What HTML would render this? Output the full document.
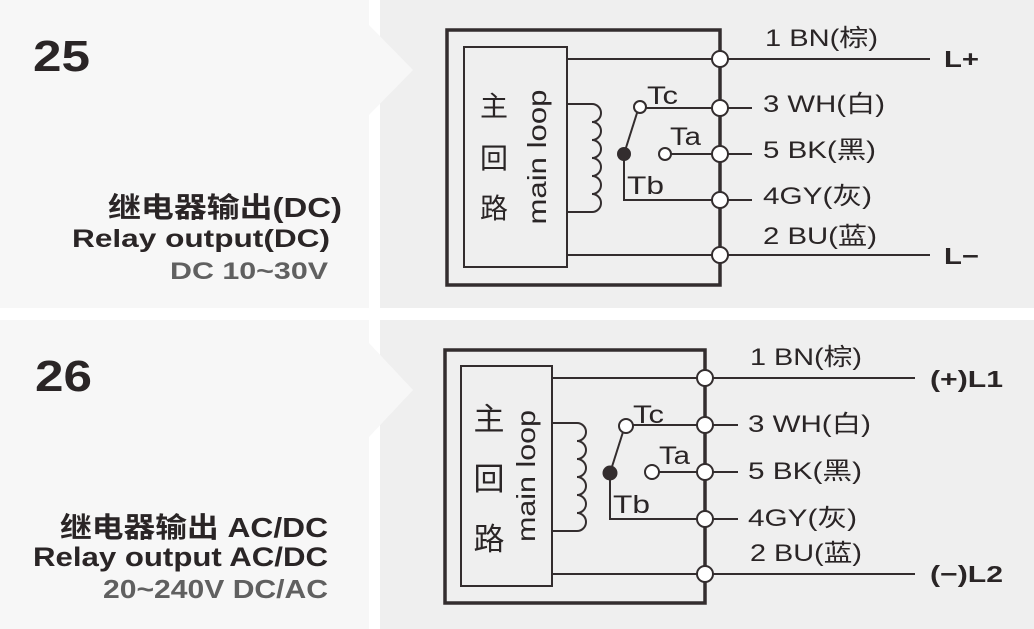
<!DOCTYPE html>
<html><head><meta charset="utf-8"><style>
html,body{margin:0;padding:0;background:#fff;}
svg{display:block;}
text{font-family:"Liberation Sans","Noto Sans CJK SC",sans-serif;fill:#2a2526;}
</style></head><body>
<svg width="1034" height="629" viewBox="0 0 1034 629" xmlns="http://www.w3.org/2000/svg">
<rect x="0" y="0" width="1034" height="629" fill="#fff"/>
<rect x="0" y="0" width="369" height="308" fill="#f7f7f7"/>
<rect x="380" y="0" width="654" height="308" fill="#efefef"/>
<rect x="0" y="320" width="369" height="309" fill="#f7f7f7"/>
<rect x="380" y="320" width="654" height="309" fill="#efefef"/>
<polygon points="369,25 413,70 369,115" fill="#f7f7f7"/>
<polygon points="369,343 413,390 369,437" fill="#f7f7f7"/>

<text x="33" y="71" font-size="44" font-weight="bold" textLength="57" lengthAdjust="spacingAndGlyphs">25</text>
<text x="108" y="217" font-size="28" font-weight="bold" textLength="234" lengthAdjust="spacingAndGlyphs">继电器输出(DC)</text>
<text x="72" y="247" font-size="25" font-weight="bold" textLength="258" lengthAdjust="spacingAndGlyphs">Relay output(DC)</text>
<text x="170" y="279" font-size="24" font-weight="bold" textLength="158" lengthAdjust="spacingAndGlyphs" style="fill:#606060">DC 10~30V</text>

<text x="35" y="391" font-size="44" font-weight="bold" textLength="57" lengthAdjust="spacingAndGlyphs">26</text>
<text x="60" y="537" font-size="28" font-weight="bold" textLength="268" lengthAdjust="spacingAndGlyphs">继电器输出 AC/DC</text>
<text x="33" y="566" font-size="27" font-weight="bold" textLength="295" lengthAdjust="spacingAndGlyphs">Relay output AC/DC</text>
<text x="103" y="598" font-size="26" font-weight="bold" textLength="225" lengthAdjust="spacingAndGlyphs" style="fill:#606060">20~240V DC/AC</text>

<g stroke="#332d2e" fill="none">
<rect x="447" y="30" width="273" height="255" stroke-width="3.5"/>
<rect x="464" y="47" width="103" height="220" stroke-width="2"/>
<line x1="567" y1="59" x2="930" y2="59" stroke-width="2"/>
<line x1="567" y1="255" x2="930" y2="255" stroke-width="2"/>
<line x1="646" y1="108" x2="752" y2="108" stroke-width="2"/>
<line x1="671" y1="154" x2="752" y2="154" stroke-width="2"/>
<polyline points="624,154 624,200 752,200" stroke-width="2"/>
<line x1="624" y1="154" x2="637" y2="113" stroke-width="2"/>
<path d="M567,104 H592 a9,9 0 0 1 0,18 a9,9 0 0 1 0,18 a9,9 0 0 1 0,18 a9,9 0 0 1 0,18 a9,9 0 0 1 0,18 a9,9 0 0 1 0,18 H567" stroke-width="2"/>
<rect x="445" y="350" width="260" height="253" stroke-width="3.5"/>
<rect x="461" y="366" width="91" height="220" stroke-width="2"/>
<line x1="552" y1="378" x2="915" y2="378" stroke-width="2"/>
<line x1="552" y1="574" x2="915" y2="574" stroke-width="2"/>
<line x1="632" y1="425" x2="738" y2="425" stroke-width="2"/>
<line x1="658" y1="472" x2="738" y2="472" stroke-width="2"/>
<polyline points="610,473 610,519 738,519" stroke-width="2"/>
<line x1="610" y1="473" x2="623" y2="432" stroke-width="2"/>
<path d="M552,423 H577 a9,9 0 0 1 0,18 a9,9 0 0 1 0,18 a9,9 0 0 1 0,18 a9,9 0 0 1 0,18 a9,9 0 0 1 0,18 a9,9 0 0 1 0,18 H552" stroke-width="2"/>
</g>
<g stroke="#332d2e" stroke-width="2" fill="#fff">
<circle cx="720" cy="59" r="8"/><circle cx="720" cy="108" r="8"/><circle cx="720" cy="154" r="8"/><circle cx="720" cy="200" r="8"/><circle cx="720" cy="255" r="8"/>
<circle cx="640" cy="107" r="6"/><circle cx="665" cy="154" r="6"/>
<circle cx="705" cy="378" r="8"/><circle cx="705" cy="425" r="8"/><circle cx="705" cy="472" r="8"/><circle cx="705" cy="519" r="8"/><circle cx="705" cy="574" r="8"/>
<circle cx="626" cy="426" r="7"/><circle cx="652" cy="472" r="7"/>
</g>
<circle cx="624" cy="154" r="7" fill="#332d2e"/>
<circle cx="610" cy="473" r="7.5" fill="#332d2e"/>

<text x="494" y="116" font-size="28" text-anchor="middle">主</text>
<text x="494" y="168" font-size="28" text-anchor="middle">回</text>
<text x="494" y="218" font-size="28" text-anchor="middle">路</text>
<text transform="translate(546,157) rotate(-90)" font-size="26" text-anchor="middle" textLength="135" lengthAdjust="spacingAndGlyphs">main loop</text>
<text x="647" y="104" font-size="25" textLength="31" lengthAdjust="spacingAndGlyphs">Tc</text>
<text x="670" y="145" font-size="25" textLength="31" lengthAdjust="spacingAndGlyphs">Ta</text>
<text x="627" y="194" font-size="25" textLength="37" lengthAdjust="spacingAndGlyphs">Tb</text>
<g font-size="24">
<text x="765" y="46" textLength="113" lengthAdjust="spacingAndGlyphs">1 BN(棕)</text>
<text x="763" y="112" textLength="122" lengthAdjust="spacingAndGlyphs">3 WH(白)</text>
<text x="763" y="158" textLength="113" lengthAdjust="spacingAndGlyphs">5 BK(黑)</text>
<text x="763" y="204" textLength="109" lengthAdjust="spacingAndGlyphs">4GY(灰)</text>
<text x="763" y="244" textLength="114" lengthAdjust="spacingAndGlyphs">2 BU(蓝)</text>
</g>
<text x="944" y="67" font-size="23" font-weight="bold" textLength="35" lengthAdjust="spacingAndGlyphs">L+</text>
<text x="944" y="264" font-size="23" font-weight="bold" textLength="35" lengthAdjust="spacingAndGlyphs">L−</text>

<text x="489" y="430" font-size="31" text-anchor="middle">主</text>
<text x="489" y="490" font-size="31" text-anchor="middle">回</text>
<text x="489" y="550" font-size="31" text-anchor="middle">路</text>
<text transform="translate(535,476) rotate(-90)" font-size="26" text-anchor="middle" textLength="132" lengthAdjust="spacingAndGlyphs">main loop</text>
<text x="633" y="423" font-size="25" textLength="31" lengthAdjust="spacingAndGlyphs">Tc</text>
<text x="659" y="464" font-size="25" textLength="31" lengthAdjust="spacingAndGlyphs">Ta</text>
<text x="613" y="513" font-size="25" textLength="37" lengthAdjust="spacingAndGlyphs">Tb</text>
<g font-size="24">
<text x="750" y="365" textLength="112" lengthAdjust="spacingAndGlyphs">1 BN(棕)</text>
<text x="748" y="432" textLength="123" lengthAdjust="spacingAndGlyphs">3 WH(白)</text>
<text x="748" y="479" textLength="114" lengthAdjust="spacingAndGlyphs">5 BK(黑)</text>
<text x="748" y="526" textLength="109" lengthAdjust="spacingAndGlyphs">4GY(灰)</text>
<text x="750" y="561" textLength="112" lengthAdjust="spacingAndGlyphs">2 BU(蓝)</text>
</g>
<text x="930" y="387" font-size="23" font-weight="bold" textLength="73" lengthAdjust="spacingAndGlyphs">(+)L1</text>
<text x="930" y="582" font-size="23" font-weight="bold" textLength="73" lengthAdjust="spacingAndGlyphs">(−)L2</text>
</svg>
</body></html>
